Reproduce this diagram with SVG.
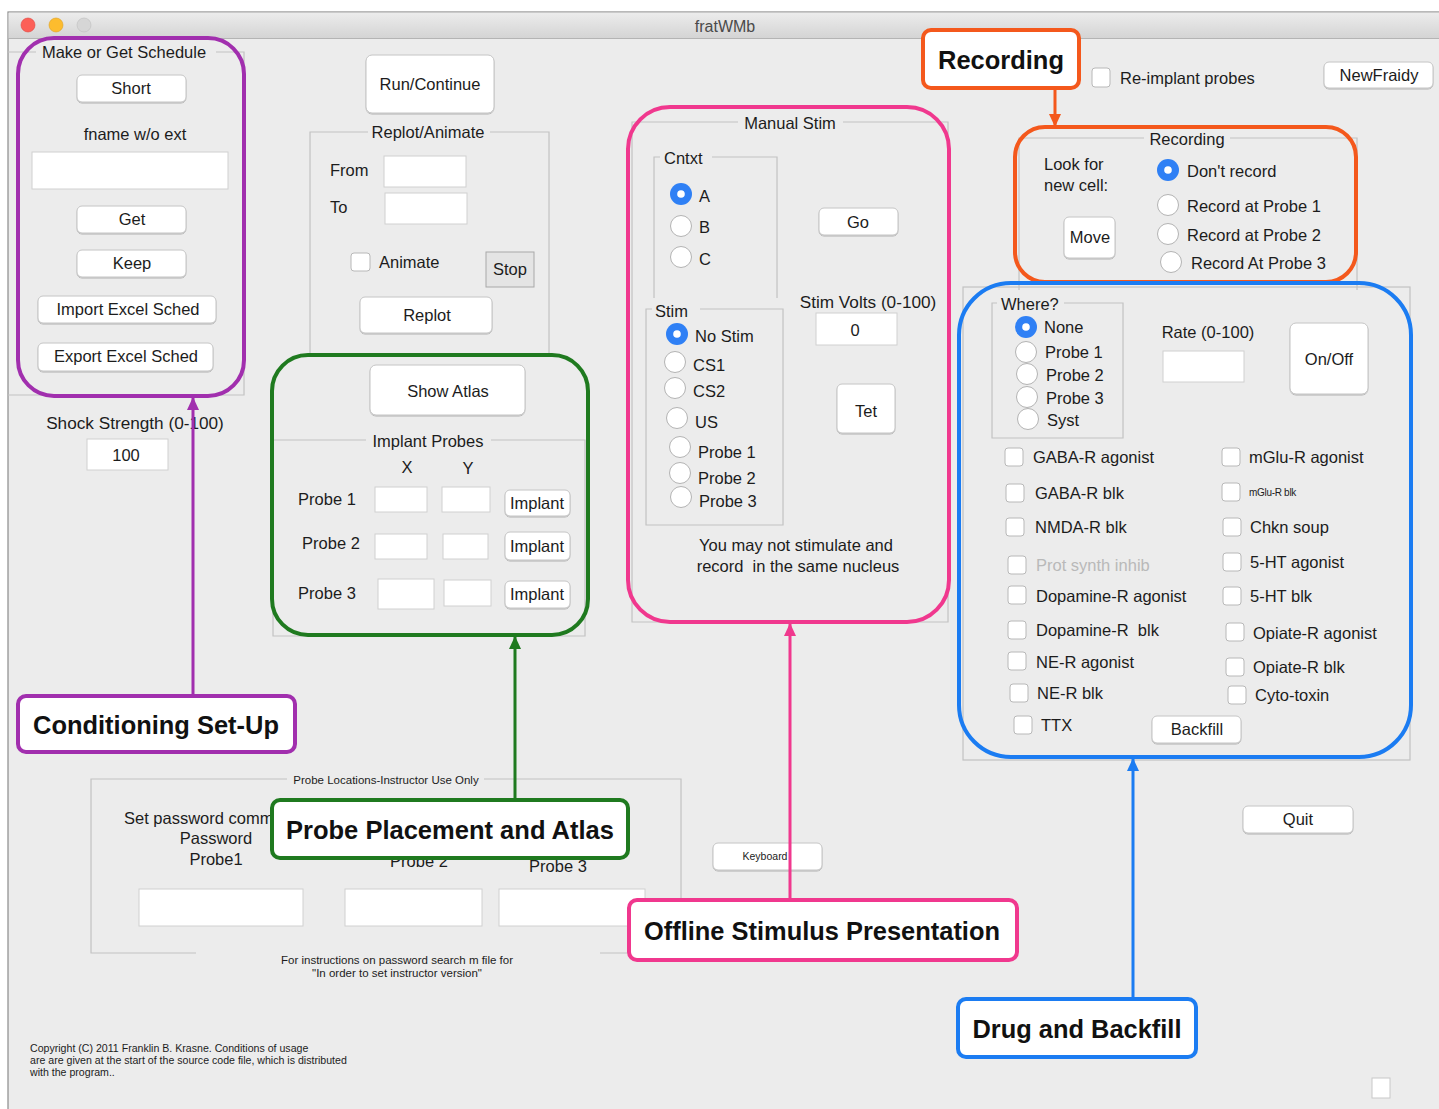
<svg xmlns="http://www.w3.org/2000/svg" width="1439" height="1109" viewBox="0 0 1439 1109">
<style>
.t{font-family:"Liberation Sans",Arial,sans-serif;font-size:16.5px;fill:#1c1c1c;dominant-baseline:central}
.m{text-anchor:middle}
.s{font-size:11.5px}
.k{font-size:10.5px}
.xs{font-size:10.6px}
.g{fill:#b9b9b9}
.lbl{font-family:"Liberation Sans",Arial,sans-serif;font-size:26px;font-weight:bold;fill:#111;text-anchor:middle;dominant-baseline:central}
.btn{fill:#fff;stroke:#c4c4c4;stroke-width:1}
.fld{fill:#fff;stroke:#d0d0d0;stroke-width:1}
.frame{fill:none;stroke:#c2c2c2;stroke-width:1.2}
.rad{fill:#fff;stroke:#b3b3b3;stroke-width:1}
.sel{fill:#2f80f5}
.chk{fill:#fff;stroke:#b8b8b8;stroke-width:1}
.ann{fill:none;stroke-width:4}
.box{fill:#fff;stroke-width:4}
.arr{fill:none;stroke-width:3}
</style>
<defs>
<linearGradient id="tb" x1="0" y1="0" x2="0" y2="1"><stop offset="0" stop-color="#ececec"/><stop offset="1" stop-color="#d4d4d4"/></linearGradient>
<filter id="sh" x="-10%" y="-10%" width="120%" height="140%"><feDropShadow dx="0" dy="1" stdDeviation="0.6" flood-color="#000" flood-opacity="0.25"/></filter>
<marker id="aP" markerUnits="userSpaceOnUse" markerWidth="14" markerHeight="14" refX="12" refY="7" orient="auto"><path d="M0,1 L13,7 L0,13 z" fill="#a12fae"/></marker>
<marker id="aG" markerUnits="userSpaceOnUse" markerWidth="14" markerHeight="14" refX="12" refY="7" orient="auto"><path d="M0,1 L13,7 L0,13 z" fill="#1f7a1f"/></marker>
<marker id="aK" markerUnits="userSpaceOnUse" markerWidth="14" markerHeight="14" refX="12" refY="7" orient="auto"><path d="M0,1 L13,7 L0,13 z" fill="#f0388e"/></marker>
<marker id="aO" markerUnits="userSpaceOnUse" markerWidth="14" markerHeight="14" refX="12" refY="7" orient="auto"><path d="M0,1 L13,7 L0,13 z" fill="#f4581c"/></marker>
<marker id="aB" markerUnits="userSpaceOnUse" markerWidth="14" markerHeight="14" refX="12" refY="7" orient="auto"><path d="M0,1 L13,7 L0,13 z" fill="#1b7cf2"/></marker>
</defs>

<rect x="0" y="0" width="1439" height="1109" fill="#fff"/>
<g id="window">
<rect x="8" y="12" width="1440" height="1100" fill="#ececec" stroke="#8c8c8c" stroke-width="1.2"/>
<rect x="8.6" y="12.6" width="1440" height="25.5" fill="url(#tb)"/>
<line x1="8" y1="38.5" x2="1439" y2="38.5" stroke="#b4b4b4"/>
<circle cx="28" cy="25" r="7" fill="#fc5f57" stroke="#e0443e" stroke-width="0.6"/>
<circle cx="56" cy="25" r="7" fill="#fdbc2e" stroke="#dea123" stroke-width="0.6"/>
<circle cx="84" cy="25" r="7" fill="#d6d6d6" stroke="#bdbdbd" stroke-width="0.6"/>
<text class="t m" x="725" y="26" style="font-size:16px;fill:#4a4a4a">fratWMb</text>
</g>

<g id="schedule-panel">
<path class="frame" d="M8,52 H36 M216,52 H244 V395 H8"/>
<text class="t m" x="124" y="52">Make or Get Schedule</text>
<rect class="btn" filter="url(#sh)" x="77" y="75" width="109" height="27" rx="5"/>
<text class="t m" x="131" y="88">Short</text>
<text class="t m" x="135" y="134">fname w/o ext</text>
<rect class="fld" x="32" y="152" width="196" height="37"/>
<rect class="btn" filter="url(#sh)" x="77" y="206" width="109" height="27" rx="5"/>
<text class="t m" x="132" y="219">Get</text>
<rect class="btn" filter="url(#sh)" x="77" y="250" width="109" height="27" rx="5"/>
<text class="t m" x="132" y="263">Keep</text>
<rect class="btn" filter="url(#sh)" x="38" y="296" width="178" height="27" rx="5"/>
<text class="t m" x="128" y="309">Import Excel Sched</text>
<rect class="btn" filter="url(#sh)" x="38" y="343" width="175" height="28" rx="5"/>
<text class="t m" x="126" y="356">Export Excel Sched</text>
<text class="t m" x="135" y="423" style="font-size:17.2px">Shock Strength (0-100)</text>
<rect class="fld" x="87" y="439" width="81" height="31"/>
<text class="t m" x="126" y="455">100</text>
</g>

<g id="run-replot">
<rect class="btn" filter="url(#sh)" x="366" y="55" width="128" height="58" rx="6"/>
<text class="t m" x="430" y="84">Run/Continue</text>
<path class="frame" d="M368,132 H310 V354 H549 V132 H490"/>
<text class="t m" x="428" y="132">Replot/Animate</text>
<text class="t" x="330" y="170">From</text>
<rect class="fld" x="384" y="156" width="82" height="31"/>
<text class="t" x="330" y="207">To</text>
<rect class="fld" x="385" y="193" width="82" height="31"/>
<rect class="chk" x="351" y="253" width="19" height="18" rx="3"/>
<text class="t" x="379" y="262">Animate</text>
<rect x="486" y="252" width="48" height="35" fill="#e4e4e4" stroke="#a8a8a8"/>
<text class="t m" x="510" y="269">Stop</text>
<rect class="btn" filter="url(#sh)" x="360" y="297" width="132" height="36" rx="5"/>
<text class="t m" x="427" y="315">Replot</text>
</g>

<g id="atlas-implant">
<rect class="btn" filter="url(#sh)" x="370" y="365" width="155" height="50" rx="6"/>
<text class="t m" x="448" y="391">Show Atlas</text>
<path class="frame" d="M366,440 H273 V636 H585 V440 H491"/>
<text class="t m" x="428" y="441">Implant Probes</text>
<text class="t m" x="407" y="467">X</text>
<text class="t m" x="468" y="468">Y</text>
<text class="t m" x="327" y="499">Probe 1</text>
<rect class="fld" x="375" y="487" width="52" height="25"/>
<rect class="fld" x="442" y="487" width="48" height="25"/>
<rect class="btn" filter="url(#sh)" x="505" y="490" width="65" height="26" rx="5"/>
<text class="t m" x="537" y="503">Implant</text>
<text class="t m" x="331" y="543">Probe 2</text>
<rect class="fld" x="375" y="534" width="52" height="25"/>
<rect class="fld" x="443" y="534" width="45" height="25"/>
<rect class="btn" filter="url(#sh)" x="505" y="532" width="65" height="28" rx="5"/>
<text class="t m" x="537" y="546">Implant</text>
<text class="t m" x="327" y="593">Probe 3</text>
<rect class="fld" x="378" y="579" width="56" height="30"/>
<rect class="fld" x="444" y="580" width="47" height="26"/>
<rect class="btn" filter="url(#sh)" x="505" y="581" width="65" height="27" rx="5"/>
<text class="t m" x="537" y="594">Implant</text>
</g>

<g id="manual-stim">
<path class="frame" d="M738,122 H632 V622 H948 V122 H843"/>
<text class="t m" x="790" y="123">Manual Stim</text>
<path class="frame" d="M660,157 H654 V298 M777,298 V157 H712"/>
<text class="t" x="664" y="158">Cntxt</text>
<circle cx="681" cy="194" r="11" class="sel"/><circle cx="681" cy="194" r="3.8" fill="#fff"/>
<text class="t" x="699" y="196">A</text>
<circle cx="681" cy="226" r="10.5" class="rad"/>
<text class="t" x="699" y="227">B</text>
<circle cx="681" cy="257" r="10.5" class="rad"/>
<text class="t" x="699" y="259">C</text>
<path class="frame" d="M652,309 H646 V525 H783 V309 H700"/>
<text class="t" x="655" y="311">Stim</text>
<circle cx="677" cy="334" r="11" class="sel"/><circle cx="677" cy="334" r="3.8" fill="#fff"/>
<text class="t" x="695" y="336">No Stim</text>
<circle cx="675" cy="362" r="10.5" class="rad"/>
<text class="t" x="693" y="365">CS1</text>
<circle cx="675" cy="388" r="10.5" class="rad"/>
<text class="t" x="693" y="391">CS2</text>
<circle cx="677" cy="418" r="10.5" class="rad"/>
<text class="t" x="695" y="422">US</text>
<circle cx="680" cy="447" r="10.5" class="rad"/>
<text class="t" x="698" y="452">Probe 1</text>
<circle cx="680" cy="473" r="10.5" class="rad"/>
<text class="t" x="698" y="478">Probe 2</text>
<circle cx="681" cy="497" r="10.5" class="rad"/>
<text class="t" x="699" y="501">Probe 3</text>
<rect class="btn" filter="url(#sh)" x="819" y="208" width="79" height="27" rx="5"/>
<text class="t m" x="858" y="222">Go</text>
<text class="t m" x="868" y="302" style="font-size:17.2px">Stim Volts (0-100)</text>
<rect class="fld" x="816" y="313" width="81" height="32"/>
<text class="t m" x="855" y="330">0</text>
<rect class="btn" filter="url(#sh)" x="837" y="384" width="58" height="49" rx="5"/>
<text class="t m" x="866" y="411">Tet</text>
<text class="t m" x="796" y="545">You may not stimulate and</text>
<text class="t m" x="798" y="566" xml:space="preserve">record  in the same nucleus</text>
</g>

<g id="top-right">
<rect class="chk" x="1092" y="68" width="18" height="19" rx="3"/>
<text class="t" x="1120" y="78">Re-implant probes</text>
<rect class="btn" filter="url(#sh)" x="1324" y="62" width="109" height="26" rx="5"/>
<text class="t m" x="1379" y="75">NewFraidy</text>
</g>

<g id="recording-panel">
<path class="frame" d="M1144,138 H1019 V290 M1357,290 V138 H1230"/>
<text class="t m" x="1187" y="139">Recording</text>
<text class="t" x="1044" y="164">Look for</text>
<text class="t" x="1044" y="185">new cell:</text>
<rect class="btn" filter="url(#sh)" x="1064" y="217" width="51" height="41" rx="5"/>
<text class="t m" x="1090" y="237">Move</text>
<circle cx="1168" cy="170" r="11" class="sel"/><circle cx="1168" cy="170" r="3.8" fill="#fff"/>
<text class="t" x="1187" y="171">Don't record</text>
<circle cx="1168" cy="205" r="10.5" class="rad"/>
<text class="t" x="1187" y="206">Record at Probe 1</text>
<circle cx="1168" cy="234" r="10.5" class="rad"/>
<text class="t" x="1187" y="235">Record at Probe 2</text>
<circle cx="1171" cy="262" r="10.5" class="rad"/>
<text class="t" x="1191" y="263">Record At Probe 3</text>
</g>

<g id="drug-panel">
<rect class="frame" x="963" y="287" width="447" height="473"/>
<path class="frame" d="M997,303 H992 V438 H1123 V303 H1064"/>
<text class="t" x="1001" y="304">Where?</text>
<circle cx="1026" cy="327" r="11" class="sel"/><circle cx="1026" cy="327" r="3.8" fill="#fff"/>
<text class="t" x="1044" y="327">None</text>
<circle cx="1026" cy="352" r="10.5" class="rad"/>
<text class="t" x="1045" y="352">Probe 1</text>
<circle cx="1027" cy="374" r="10.5" class="rad"/>
<text class="t" x="1046" y="375">Probe 2</text>
<circle cx="1027" cy="397" r="10.5" class="rad"/>
<text class="t" x="1046" y="398">Probe 3</text>
<circle cx="1028" cy="419" r="10.5" class="rad"/>
<text class="t" x="1047" y="420">Syst</text>
<text class="t m" x="1208" y="332">Rate (0-100)</text>
<rect class="fld" x="1163" y="351" width="81" height="31"/>
<rect class="btn" filter="url(#sh)" x="1290" y="323" width="78" height="71" rx="6"/>
<text class="t m" x="1329" y="359">On/Off</text>
<rect class="chk" x="1005" y="448" width="18" height="18" rx="3"/><text class="t" x="1033" y="457">GABA-R agonist</text>
<rect class="chk" x="1006" y="484" width="18" height="18" rx="3"/><text class="t" x="1035" y="493">GABA-R blk</text>
<rect class="chk" x="1006" y="518" width="18" height="18" rx="3"/><text class="t" x="1035" y="527">NMDA-R blk</text>
<rect class="chk" x="1008" y="556" width="18" height="18" rx="3"/><text class="t g" x="1036" y="565">Prot synth inhib</text>
<rect class="chk" x="1008" y="586" width="18" height="18" rx="3"/><text class="t" x="1036" y="596">Dopamine-R agonist</text>
<rect class="chk" x="1008" y="621" width="18" height="18" rx="3"/><text class="t" x="1036" y="630" xml:space="preserve">Dopamine-R  blk</text>
<rect class="chk" x="1008" y="652" width="18" height="18" rx="3"/><text class="t" x="1036" y="662">NE-R agonist</text>
<rect class="chk" x="1010" y="684" width="18" height="18" rx="3"/><text class="t" x="1037" y="693">NE-R blk</text>
<rect class="chk" x="1014" y="716" width="18" height="18" rx="3"/><text class="t" x="1041" y="725">TTX</text>
<rect class="chk" x="1222" y="448" width="18" height="18" rx="3"/><text class="t" x="1249" y="457">mGlu-R agonist</text>
<rect class="chk" x="1222" y="483" width="18" height="18" rx="3"/><text class="t" x="1249" y="492" style="font-size:10px;letter-spacing:-0.3px">mGlu-R blk</text>
<rect class="chk" x="1223" y="518" width="18" height="18" rx="3"/><text class="t" x="1250" y="527">Chkn soup</text>
<rect class="chk" x="1223" y="553" width="18" height="18" rx="3"/><text class="t" x="1250" y="562">5-HT agonist</text>
<rect class="chk" x="1223" y="587" width="18" height="18" rx="3"/><text class="t" x="1250" y="596">5-HT blk</text>
<rect class="chk" x="1226" y="623" width="18" height="18" rx="3"/><text class="t" x="1253" y="633">Opiate-R agonist</text>
<rect class="chk" x="1226" y="658" width="18" height="18" rx="3"/><text class="t" x="1253" y="667">Opiate-R blk</text>
<rect class="chk" x="1228" y="686" width="18" height="18" rx="3"/><text class="t" x="1255" y="695">Cyto-toxin</text>
<rect class="btn" filter="url(#sh)" x="1152" y="716" width="89" height="27" rx="5"/>
<text class="t m" x="1197" y="729">Backfill</text>
</g>

<g id="instructor-panel">
<path class="frame" d="M287,779 H91 V953 H196 M600,953 H681 V779 H484"/>
<text class="t m s" x="386" y="780">Probe Locations-Instructor Use Only</text>
<text class="t" x="124" y="818">Set password comm</text>
<text class="t m" x="216" y="838">Password</text>
<text class="t m" x="216" y="859">Probe1</text>
<text class="t m" x="419" y="861">Probe 2</text>
<text class="t m" x="558" y="866">Probe 3</text>
<rect class="fld" x="139" y="889" width="164" height="37"/>
<rect class="fld" x="345" y="889" width="137" height="37"/>
<rect class="fld" x="499" y="889" width="146" height="37"/>
<text class="t m s" x="397" y="960">For instructions on password search m file for</text>
<text class="t m s" x="397" y="973">"In order to set instructor version"</text>
</g>

<g id="misc">
<rect class="btn" filter="url(#sh)" x="713" y="843" width="109" height="27" rx="5"/>
<text class="t m k" x="765" y="856">Keyboard</text>
<rect class="btn" filter="url(#sh)" x="1243" y="806" width="110" height="27" rx="5"/>
<text class="t m" x="1298" y="819">Quit</text>
<rect x="1372" y="1078" width="18" height="20" fill="#fff" stroke="#c8c8c8"/>
<text class="t xs" x="30" y="1048">Copyright (C) 2011 Franklin B. Krasne.  Conditions of usage</text>
<text class="t xs" x="30" y="1060">are are given at the start of the source code file, which is distributed</text>
<text class="t xs" x="30" y="1072">with the program..</text>
</g>

<g id="highlights">
<rect class="ann" x="18" y="38" width="226" height="358" rx="36" stroke="#a12fae"/>
<rect class="ann" x="272" y="355" width="316" height="280" rx="36" stroke="#1f7a1f"/>
<rect class="ann" x="628" y="107" width="321" height="515" rx="42" stroke="#f0388e"/>
<rect class="ann" x="1015" y="127" width="341" height="155" rx="30" stroke="#f4581c"/>
<rect class="ann" x="959" y="283" width="452" height="474" rx="52" stroke="#1b7cf2"/>
</g>

<g id="connectors">
<line class="arr" x1="193" y1="696" x2="193" y2="398" stroke="#a12fae" marker-end="url(#aP)"/>
<line class="arr" x1="515" y1="800" x2="515" y2="637" stroke="#1f7a1f" marker-end="url(#aG)"/>
<line class="arr" x1="790" y1="900" x2="790" y2="624" stroke="#f0388e" marker-end="url(#aK)"/>
<line class="arr" x1="1133" y1="999" x2="1133" y2="759" stroke="#1b7cf2" marker-end="url(#aB)"/>
<line class="arr" x1="1055" y1="88" x2="1055" y2="126" stroke="#f4581c" marker-end="url(#aO)"/>
</g>

<g id="label-conditioning">
<rect class="box" x="18" y="696" width="277" height="56" rx="8" stroke="#a12fae"/>
<text class="lbl" x="156" y="725" textLength="246" lengthAdjust="spacingAndGlyphs">Conditioning Set-Up</text>
</g>
<g id="label-probe-placement">
<rect class="box" x="272" y="800" width="356" height="58" rx="8" stroke="#1f7a1f"/>
<text class="lbl" x="450" y="830" textLength="328" lengthAdjust="spacingAndGlyphs">Probe Placement and Atlas</text>
</g>
<g id="label-offline">
<rect class="box" x="629" y="900" width="388" height="60" rx="8" stroke="#f0388e"/>
<text class="lbl" x="822" y="931" textLength="356" lengthAdjust="spacingAndGlyphs">Offline Stimulus Presentation</text>
</g>
<g id="label-drug">
<rect class="box" x="958" y="999" width="238" height="58" rx="8" stroke="#1b7cf2"/>
<text class="lbl" x="1077" y="1029" textLength="209" lengthAdjust="spacingAndGlyphs">Drug and Backfill</text>
</g>
<g id="label-recording">
<rect class="box" x="923" y="30" width="156" height="58" rx="8" stroke="#f4581c"/>
<text class="lbl" x="1001" y="60" textLength="126" lengthAdjust="spacingAndGlyphs">Recording</text>
</g>
</svg>
